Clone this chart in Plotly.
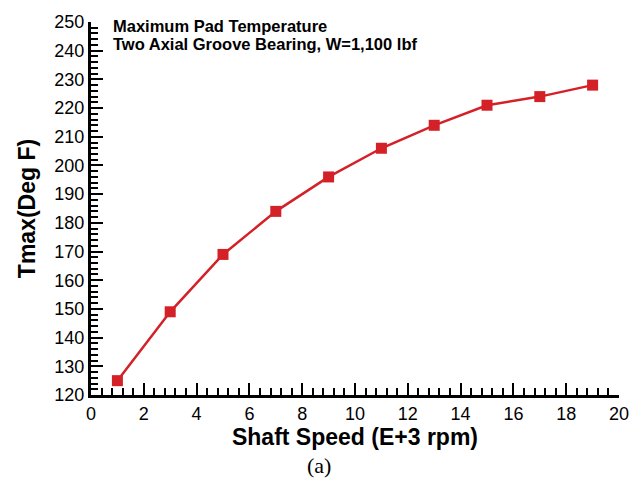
import plotly.graph_objects as go

# Shaft speed (thousand rpm) and maximum pad temperature (deg F)
shaft_speed = [1, 3, 5, 7, 9, 11, 13, 15, 17, 19]
tmax = [125, 149, 169, 184, 196, 206, 214, 221, 224, 228]

title_lines = ["Maximum Pad Temperature", "Two Axial Groove Bearing, W=1,100 lbf"]
x_title = "Shaft Speed (E+3 rpm)"
y_title = "Tmax(Deg F)"
red = "#d42027"
sans = "Liberation Sans"

fig = go.Figure()
fig.add_trace(go.Scatter(
    x=shaft_speed, y=tmax, mode="lines+markers",
    line=dict(color=red, width=2.5),
    marker=dict(symbol="square", size=11, color=red),
    cliponaxis=False, showlegend=False,
))

axis_common = dict(
    showline=True, linecolor="black", linewidth=3, mirror=False,
    ticks="inside", ticklen=12, tickwidth=2, tickcolor="black",
    showgrid=False, zeroline=False,
    tickfont=dict(family=sans, size=18, color="black"),
)

fig.update_xaxes(
    range=[0, 20], dtick=2, tick0=0,
    minor=dict(dtick=0.4, ticks="inside", ticklen=7, tickwidth=1.5, tickcolor="black"),
    title=dict(text="<b>" + x_title + "</b>", standoff=0,
               font=dict(family=sans, size=23, color="black")),
    **axis_common,
)
fig.update_yaxes(
    range=[120, 250], dtick=10, tick0=120,
    minor=dict(dtick=2, ticks="inside", ticklen=7, tickwidth=1.5, tickcolor="black"),
    title=dict(text="<b>" + y_title + "</b>", standoff=13,
               font=dict(family=sans, size=23, color="black")),
    **axis_common,
)

# Two-line caption in the upper-left corner of the plot
for line, ypos in zip(title_lines, [0.988, 0.940]):
    fig.add_annotation(
        text="<b>" + line + "</b>",
        xref="paper", yref="paper", x=0.04, y=ypos,
        xanchor="left", yanchor="middle", align="left", showarrow=False,
        borderpad=0,
        font=dict(family=sans, size=16.5, color="black"),
    )

fig.add_annotation(
    text="(a)", xref="paper", yref="paper", x=0.432, y=-0.19,
    xanchor="center", yanchor="middle", showarrow=False,
    font=dict(family="Liberation Serif", size=22, color="black"),
)

fig.update_layout(
    width=642, height=481,
    margin=dict(l=91, r=23, t=17, b=86),
    paper_bgcolor="white", plot_bgcolor="white",
)

fig.write_html("out.html")
